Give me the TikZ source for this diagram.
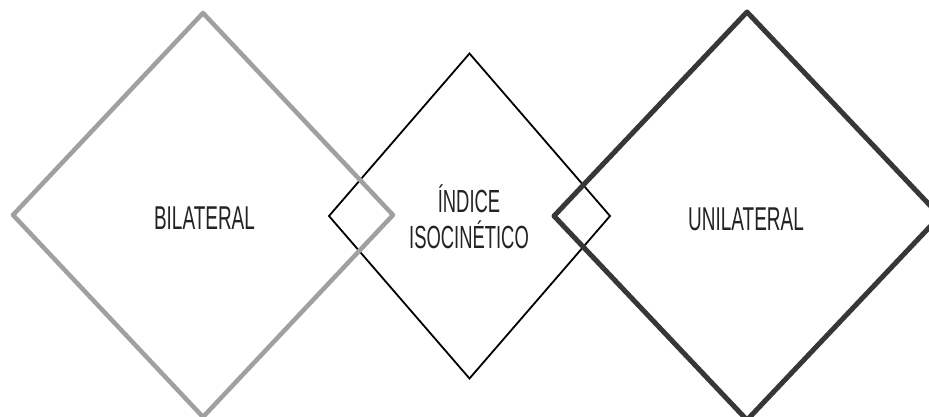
\documentclass[tikz,border=0pt]{standalone}
\usepackage{fontspec}
\setmainfont{Liberation Sans}
\newcommand\condtext[1]{\scalebox{0.575}[1]{#1}}
\definecolor{lgray}{RGB}{160,160,160}
\definecolor{dgray}{RGB}{55,55,55}
\definecolor{txt}{RGB}{35,35,35}
\tikzset{
  graybox/.style={draw=lgray, line width=4.5pt, line join=round},
  blackbox/.style={draw=black, line width=1.8pt},
  darkbox/.style={draw=dgray, line width=5pt, line join=round},
  lbl/.style={anchor=base, inner sep=0pt, text=txt, font=\fontsize{33}{36}\selectfont},
  lblm/.style={anchor=base, inner sep=0pt, text=txt, font=\fontsize{32}{36}\selectfont}
}
\begin{document}
\begin{tikzpicture}[x=1pt,y=1pt]
\useasboundingbox (0,0) rectangle (929,416);
\clip (0,0) rectangle (929,416);
\fill[white] (0,0) rectangle (929,416);
% middle diamond
\coordinate (mt) at (469.5,362.5);
\coordinate (mr) at (610,200);
\coordinate (mb) at (469.5,37.5);
\coordinate (ml) at (329,200);
\draw[blackbox] (mt) -- (mr) -- (mb) -- (ml) -- cycle;
% left diamond
\coordinate (lt) at (203,403);
\coordinate (lr) at (393,201);
\coordinate (lb) at (203,-1);
\coordinate (ll) at (13,201);
\draw[graybox] (lt) -- (lr) -- (lb) -- (ll) -- cycle;
% right diamond
\coordinate (rt) at (747,404);
\coordinate (rr) at (940,200);
\coordinate (rb) at (747,-4);
\coordinate (rl) at (554,200);
\draw[darkbox] (rt) -- (rr) -- (rb) -- (rl) -- cycle;
% labels
\node[lbl] (bil) at (204.5,187) {\condtext{BILATERAL}};
\node[lbl] (uni) at (746,186) {\condtext{UNILATERAL}};
\node[lblm] (ind) at (469,204) {\condtext{ÍNDICE}};
\node[lblm] (iso) at (469,168) {\condtext{ISOCINÉTICO}};
\end{tikzpicture}
\end{document}
